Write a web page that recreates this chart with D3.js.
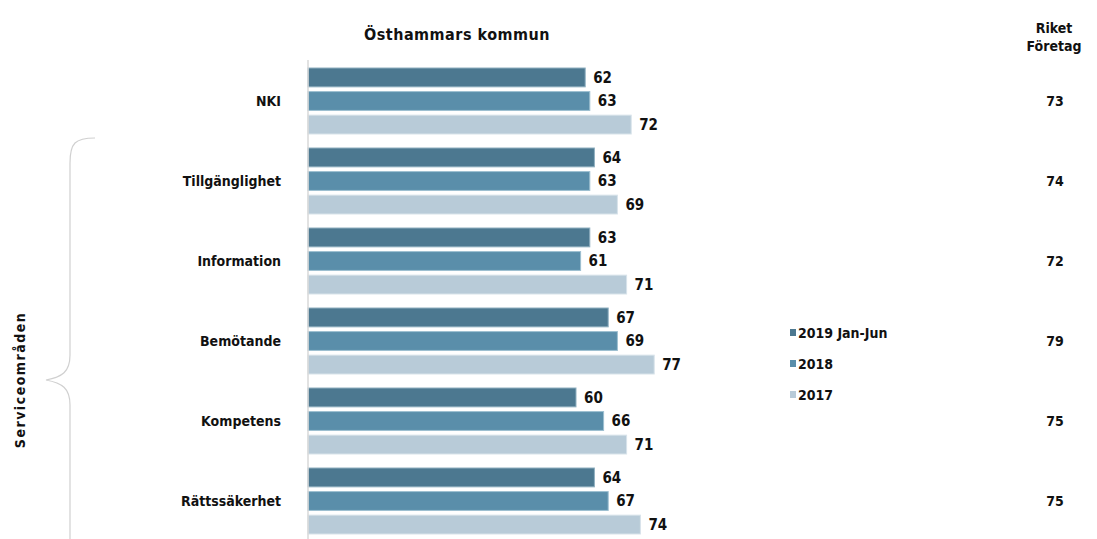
<!DOCTYPE html>
<html>
<head>
<meta charset="utf-8">
<script src="https://cdn.jsdelivr.net/npm/d3@7"></script>
<style>
  body { margin: 0; background: #fff; }
  svg { display: block; }
  text { font-family: "Liberation Sans Narrow", "DejaVu Sans Condensed", sans-serif; font-weight: bold; fill: #111; }
</style>
</head>
<body>
<div id="chart"></div>
<script>
// chart data
var categories = ["NKI", "Tillgänglighet", "Information", "Bemötande", "Kompetens", "Rättssäkerhet"];
var seriesNames = ["2019 Jan-Jun", "2018", "2017"];
var values2019 = [62, 64, 63, 67, 60, 64];
var values2018 = [63, 63, 61, 69, 66, 67];
var values2017 = [72, 69, 71, 77, 71, 74];
var riket = [73, 74, 72, 79, 75, 75];

var colors = ["#4c7890", "#5a8eaa", "#b8cbd8"];
var strokes = ["#8fb0c0", "#9dbfd0", "#d8e3ea"];

var width = 1097, height = 539;
var axisX = 308;

var svg = d3.select("#chart").append("svg")
  .attr("width", width)
  .attr("height", height);

// scales
var x = d3.scaleLinear().domain([0, 100]).range([300, 760]);
var y0 = d3.scaleBand().domain(categories).range([60, 540]).paddingInner(0);
var y1 = d3.scaleBand().domain(seriesNames).range([8, 74]).paddingInner(0.2);

var rows = categories.map(function (c, i) {
  return {cat: c, vals: [values2019[i], values2018[i], values2017[i]], riket: riket[i]};
});

// titles
svg.append("text")
  .attr("x", 457).attr("y", 40)
  .attr("text-anchor", "middle")
  .style("font-size", "16px")
  .style("letter-spacing", "0.5px")
  .text("Östhammars kommun");

svg.append("text")
  .attr("x", 1054).attr("y", 33)
  .attr("text-anchor", "middle")
  .style("font-size", "14px")
  .text("Riket");
svg.append("text")
  .attr("x", 1054).attr("y", 51)
  .attr("text-anchor", "middle")
  .style("font-size", "14px")
  .text("Företag");

var g = svg.selectAll(".grp")
  .data(rows)
  .enter().append("g")
  .attr("class", "grp")
  .attr("transform", function (d) { return "translate(0," + y0(d.cat) + ")"; });

g.selectAll("rect")
  .data(function (d) { return d.vals.map(function (v, j) { return {s: seriesNames[j], v: v, j: j}; }); })
  .enter().append("rect")
  .attr("x", axisX)
  .attr("y", function (d) { return y1(d.s); })
  .attr("width", function (d) { return x(d.v) - axisX; })
  .attr("height", y1.bandwidth())
  .attr("fill", function (d) { return colors[d.j]; })
  .attr("stroke", function (d) { return strokes[d.j]; })
  .attr("stroke-width", 1);

g.selectAll(".val")
  .data(function (d) { return d.vals.map(function (v, j) { return {s: seriesNames[j], v: v}; }); })
  .enter().append("text")
  .attr("class", "val")
  .attr("x", function (d) { return x(d.v) + 8; })
  .attr("y", function (d) { return y1(d.s) + y1.bandwidth() / 2; })
  .attr("dy", "0.36em")
  .style("font-size", "15px")
  .text(function (d) { return d.v; });

// category labels
g.append("text")
  .attr("x", 281)
  .attr("y", function () { return y1("2018") + y1.bandwidth() / 2; })
  .attr("dy", "0.36em")
  .attr("text-anchor", "end")
  .style("font-size", "14px")
  .text(function (d) { return d.cat; });

// riket values
g.append("text")
  .attr("x", 1055)
  .attr("y", function () { return y1("2018") + y1.bandwidth() / 2; })
  .attr("dy", "0.36em")
  .attr("text-anchor", "middle")
  .style("font-size", "14px")
  .text(function (d) { return d.riket; });

// axis line
svg.append("line")
  .attr("x1", axisX).attr("x2", axisX)
  .attr("y1", 60).attr("y2", 539)
  .attr("stroke", "#d9d9d9").attr("stroke-width", 1.5);

// legend
var legend = svg.selectAll(".leg")
  .data(seriesNames)
  .enter().append("g")
  .attr("class", "leg")
  .attr("transform", function (d, i) { return "translate(790," + (333 + i * 31) + ")"; });
legend.append("rect")
  .attr("x", 0).attr("y", -4)
  .attr("width", 6).attr("height", 7)
  .attr("fill", function (d, i) { return colors[i]; });
legend.append("text")
  .attr("x", 8).attr("dy", "0.36em")
  .style("font-size", "14px")
  .text(function (d) { return d; });

// brace
var bx = 70, braceTop = 138, braceMid = 380, braceBot = 539;
svg.append("path")
  .attr("d", "M" + (bx + 25) + "," + braceTop +
    " C" + (bx + 5) + "," + braceTop + " " + bx + "," + (braceTop + 5) + " " + bx + "," + (braceTop + 25) +
    " L" + bx + "," + (braceMid - 25) +
    " C" + bx + "," + (braceMid - 8) + " " + (bx - 8) + "," + (braceMid - 3) + " " + (bx - 24) + "," + braceMid +
    " C" + (bx - 8) + "," + (braceMid + 3) + " " + bx + "," + (braceMid + 8) + " " + bx + "," + (braceMid + 25) +
    " L" + bx + "," + braceBot)
  .attr("fill", "none")
  .attr("stroke", "#d0d0d0")
  .attr("stroke-width", 1.2);

svg.append("text")
  .attr("transform", "translate(25,380) rotate(-90)")
  .attr("text-anchor", "middle")
  .style("font-size", "14px")
  .style("letter-spacing", "1.5px")
  .text("Serviceområden");
</script>
</body>
</html>
